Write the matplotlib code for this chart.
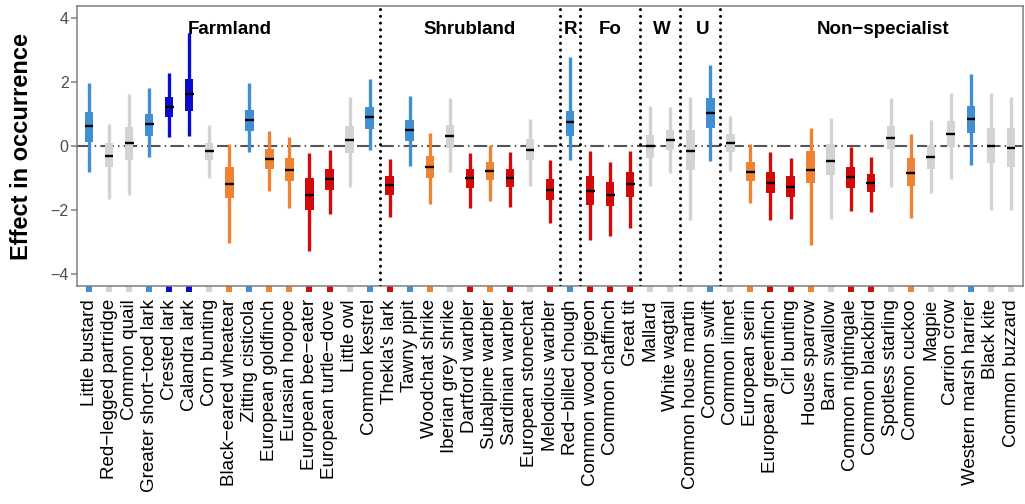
import matplotlib
matplotlib.use("Agg")
import matplotlib.pyplot as plt
import numpy as np

plt.rcParams['font.family'] = ['Liberation Sans', 'DejaVu Sans']

species = [
    "Little bustard", "Red\u2212legged partridge", "Common quail",
    "Greater short\u2212toed lark", "Crested lark", "Calandra lark", "Corn bunting",
    "Black\u2212eared wheatear", "Zitting cisticola", "European goldfinch",
    "Eurasian hoopoe", "European bee\u2212eater", "European turtle\u2212dove",
    "Little owl", "Common kestrel",
    "Thekla's lark", "Tawny pipit", "Woodchat shrike", "Iberian grey shrike",
    "Dartford warbler", "Subalpine warbler", "Sardinian warbler",
    "European stonechat", "Melodious warbler",
    "Red\u2212billed chough",
    "Common wood pigeon", "Common chaffinch", "Great tit",
    "Mallard", "White wagtail",
    "Common house martin", "Common swift",
    "Common linnet", "European serin", "European greenfinch", "Cirl bunting",
    "House sparrow", "Barn swallow", "Common nightingale", "Common blackbird",
    "Spotless starling", "Common cuckoo", "Magpie", "Carrion crow",
    "Western marsh harrier", "Black kite", "Common buzzard",
]

# effect class of each species
effect = [
    "pos", "ns", "ns", "pos", "strong_pos", "strong_pos", "ns", "neg", "pos", "neg",
    "neg", "strong_neg", "strong_neg", "ns", "pos",
    "strong_neg", "pos", "neg", "ns", "strong_neg", "neg", "strong_neg", "ns", "strong_neg",
    "pos",
    "strong_neg", "strong_neg", "strong_neg",
    "ns", "ns",
    "ns", "pos",
    "ns", "neg", "strong_neg", "strong_neg", "neg", "ns", "strong_neg", "strong_neg",
    "ns", "neg", "ns", "ns", "pos", "ns", "ns",
]

lo95 = [-0.80, -1.65, -1.53, -0.35, 0.29, 0.31, -1.01, -3.01, -0.18, -1.39,
        -1.94, -3.27, -2.13, -1.29, -0.12,
        -2.20, -0.62, -1.79, -0.80, -1.92, -1.71, -1.89, -1.24, -2.39,
        -0.44,
        -2.93, -2.80, -2.54,
        -1.25, -0.83,
        -2.31, -0.46,
        -0.78, -1.77, -2.31, -2.28, -3.08, -2.27, -2.02, -2.07,
        -1.29, -2.25, -1.47, -1.04, -0.59, -1.99, -1.99]
lo50 = [0.13, -0.64, -0.44, 0.31, 0.89, 1.09, -0.44, -1.63, 0.47, -0.70,
        -1.08, -1.99, -1.37, -0.21, 0.53,
        -1.51, 0.16, -0.99, -0.05, -1.30, -1.06, -1.29, -0.44, -1.68,
        0.31,
        -1.84, -1.87, -1.58,
        -0.36, -0.12,
        -0.75, 0.57,
        -0.20, -1.09, -1.47, -1.58, -1.14, -0.90, -1.30, -1.44,
        -0.10, -1.25, -0.70, -0.02, 0.40, -0.54, -0.66]
med = [0.62, -0.30, 0.08, 0.68, 1.22, 1.63, -0.16, -1.18, 0.81, -0.40,
       -0.75, -1.53, -1.04, 0.19, 0.89,
       -1.21, 0.50, -0.64, 0.31, -1.01, -0.77, -0.99, -0.12, -1.37,
       0.76,
       -1.40, -1.53, -1.19,
       0.00, 0.19,
       -0.16, 1.04,
       0.08, -0.80, -1.14, -1.27, -0.75, -0.47, -0.98, -1.16,
       0.26, -0.83, -0.33, 0.36, 0.83, 0.00, -0.05]
hi50 = [1.07, 0.08, 0.60, 0.99, 1.52, 2.08, 0.10, -0.66, 1.12, -0.09,
        -0.36, -1.01, -0.70, 0.62, 1.21,
        -0.93, 0.81, -0.30, 0.65, -0.73, -0.49, -0.73, 0.21, -1.03,
        1.09,
        -0.92, -1.13, -0.80,
        0.34, 0.50,
        0.50, 1.49,
        0.36, -0.49, -0.80, -0.93, -0.16, 0.05, -0.64, -0.88,
        0.62, -0.38, 0.03, 0.78, 1.26, 0.57, 0.55]
hi95 = [1.97, 0.69, 1.62, 1.81, 2.28, 3.51, 0.66, 0.06, 1.97, 0.48,
        0.27, -0.23, -0.12, 1.54, 2.09,
        -0.40, 1.56, 0.40, 1.51, -0.21, 0.03, -0.20, 0.84, -0.44,
        2.76,
        -0.16, -0.49, -0.16,
        1.26, 1.21,
        1.54, 2.52,
        0.94, 0.06, -0.18, -0.38, 0.55, 0.86, -0.02, -0.33,
        1.51, 0.36, 0.81, 1.66, 2.24, 1.64, 1.52]

groups = ["Farmland", "Shrubland", "R", "Fo", "W", "U", "Non\u2212specialist"]
group_sizes = [15, 9, 1, 3, 2, 2, 15]
group_label_x = [7, 19, 24, 26, 28.6, 30.6, 39.6]

palette = {"strong_pos": "#0B0BCC", "pos": "#3F8FD2", "ns": "#D3D3D3",
           "neg": "#EE8433", "strong_neg": "#D20A0A"}
cols = [palette[e] for e in effect]

x = np.arange(len(species))

fig = plt.figure(figsize=(10.25, 5.04), dpi=100)
ax = fig.add_axes([0.0751, 0.4325, 0.923, 0.5555])

ax.axhline(0, color="#555555", lw=1.5, ls=(0, (6.5, 2, 0.7, 2)), zorder=1)

ax.vlines(x, lo95, hi95, colors=cols, lw=2.4, zorder=2)
ax.bar(x, np.array(hi50) - np.array(lo50), bottom=lo50, width=0.42,
       color=cols, zorder=3)
ax.hlines(med, x - 0.22, x + 0.22, colors="black", lw=1.7, zorder=4)

# habitat group separators and names
bounds = np.cumsum(group_sizes)[:-1] - 0.5
for b in bounds:
    ax.axvline(b, color="black", lw=2.2, ls=(0, (0.01, 2.2)),
               dash_capstyle="round", zorder=5)
for name, gx in zip(groups, group_label_x):
    ax.text(gx, 3.64, name, ha="center", va="center", fontsize=13.5,
            fontweight="bold")

ax.set_xlim(-0.6, 46.6)
ax.set_ylim(-4.36, 4.36)
ax.set_yticks([-4, -2, 0, 2, 4])
ax.set_xticks(x)
ax.set_xticklabels(species, rotation=90, fontsize=13.5)
ax.tick_params(axis="x", length=4.5, width=4.3, pad=5)
ax.tick_params(axis="y", length=4, width=1.1, color="#7F7F7F",
               labelcolor="#4D4D4D", labelsize=11.5, pad=2)
for tick, c in zip(ax.xaxis.get_major_ticks(), cols):
    tick.tick1line.set_markeredgecolor(c)
    tick.tick1line.set_color(c)

for s in ax.spines.values():
    s.set_color("#7F7F7F")
    s.set_linewidth(1.1)

ax.set_ylabel("Effect in occurrence", fontsize=17, fontweight="bold")
ax.yaxis.set_label_coords(-0.047, 0.5)

fig.savefig("out.png", dpi=100)
